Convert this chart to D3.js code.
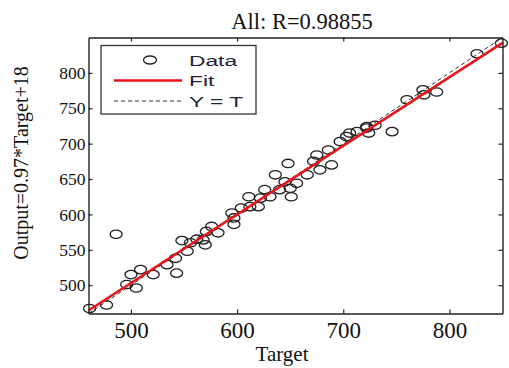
<!DOCTYPE html>
<html>
<head>
<meta charset="utf-8">
<script src="https://cdn.jsdelivr.net/npm/d3@7"></script>
<style>
  body { margin: 0; background: #fff; }
  svg { display: block; }
</style>
</head>
<body>
<svg id="chart" width="509" height="368"></svg>
<script>
// data
var targets = [461, 477, 496, 500, 505, 509, 486, 521, 534, 543, 542, 553, 556, 548, 562, 568, 570, 571, 576, 582,
  595, 597, 597, 604, 611, 612, 620, 622, 626, 631, 636, 640, 645, 648, 650, 651, 656, 666, 672, 675,
  678, 686, 689, 697, 703, 713, 722, 730, 706, 722, 724, 746, 760, 775, 776, 788, 826, 849];
var outputs = [467, 472, 501, 515, 496, 522, 572, 515, 529, 517, 538, 548, 560, 563, 565, 564, 557, 576, 583, 574,
  602, 595, 586, 609, 625, 611, 611, 623, 635, 625, 656, 635, 646, 672, 637, 625, 644, 656, 675, 684,
  663, 691, 670, 703, 710, 717, 724, 726, 715, 722, 715, 717, 762, 776, 769, 773, 827, 842];
var xTicks = [500, 600, 700, 800];
var yTicks = [500, 550, 600, 650, 700, 750, 800];
var fitSlope = 0.97, fitIntercept = 18;
var legendLabels = ["Data", "Fit", "Y = T"];

var data = targets.map(function (t, i) { return { t: t, o: outputs[i] }; });

var svg = d3.select("#chart");
var serif = "'Liberation Serif', 'Times New Roman', serif";

var x = d3.scaleLinear().domain([460, 850]).range([88.5, 502.5]);
var y = d3.scaleLinear().domain([460, 850]).range([313.5, 37.5]);

// Y = T dashed line
svg.append("line")
  .attr("x1", x(460)).attr("y1", y(460))
  .attr("x2", x(850)).attr("y2", y(850))
  .attr("stroke", "#333").attr("stroke-width", 1)
  .attr("stroke-dasharray", "4,3");

// data circles (picture is stretched sideways, so ellipses)
svg.append("g")
  .selectAll("ellipse")
  .data(data)
  .enter()
  .append("ellipse")
  .attr("cx", function (d) { return x(d.t); })
  .attr("cy", function (d) { return y(d.o); })
  .attr("rx", 6)
  .attr("ry", 4.2)
  .attr("fill", "none")
  .attr("stroke", "#222")
  .attr("stroke-width", 1.3);

// fit line
svg.append("line")
  .attr("x1", x(460)).attr("y1", y(fitSlope * 460 + fitIntercept))
  .attr("x2", x(850)).attr("y2", y(fitSlope * 850 + fitIntercept))
  .attr("stroke", "#e8141b").attr("stroke-width", 2.6);

// axes, ticks pointing inward on all four sides
function styleAxis(g) {
  g.selectAll("path").attr("stroke", "#222").attr("stroke-width", 1.4);
  g.selectAll("line").attr("stroke", "#222").attr("stroke-width", 1.2);
}
svg.append("g")
  .attr("transform", "translate(0," + y(460) + ")")
  .call(d3.axisBottom(x).tickValues(xTicks).tickSizeInner(-4).tickSizeOuter(0).tickPadding(8))
  .call(styleAxis)
  .call(function (g) {
    g.selectAll("text").attr("font-family", serif).attr("font-size", 23).attr("fill", "#111");
  });
svg.append("g")
  .attr("transform", "translate(0," + y(850) + ")")
  .call(d3.axisTop(x).tickValues(xTicks).tickSizeInner(-4).tickSizeOuter(0).tickFormat(""))
  .call(styleAxis);
svg.append("g")
  .attr("transform", "translate(" + x(460) + ",0)")
  .call(d3.axisLeft(y).tickValues(yTicks).tickSizeInner(-4).tickSizeOuter(0).tickPadding(3))
  .call(styleAxis)
  .call(function (g) {
    g.selectAll("text").attr("font-family", serif).attr("font-size", 17.5).attr("fill", "#111");
  });
svg.append("g")
  .attr("transform", "translate(" + x(850) + ",0)")
  .call(d3.axisRight(y).tickValues(yTicks).tickSizeInner(-4).tickSizeOuter(0).tickFormat(""))
  .call(styleAxis);

// title and axis labels
svg.append("text")
  .attr("x", 302).attr("y", 29)
  .attr("text-anchor", "middle")
  .attr("font-family", serif).attr("font-size", 22.5).attr("fill", "#111")
  .text("All: R=0.98855");
svg.append("text")
  .attr("x", 282).attr("y", 361)
  .attr("text-anchor", "middle")
  .attr("font-family", serif).attr("font-size", 21).attr("fill", "#111")
  .text("Target");
svg.append("text")
  .attr("transform", "translate(28,163) rotate(-90)")
  .attr("text-anchor", "middle")
  .attr("font-family", serif).attr("font-size", 20).attr("fill", "#111")
  .text("Output=0.97*Target+18");

// legend
var legend = svg.append("g");
legend.append("rect")
  .attr("x", 101).attr("y", 45.5)
  .attr("width", 155).attr("height", 68.5)
  .attr("fill", "#fff").attr("stroke", "#333").attr("stroke-width", 1.3);
legend.append("ellipse")
  .attr("cx", 150).attr("cy", 60).attr("rx", 6.5).attr("ry", 4)
  .attr("fill", "none").attr("stroke", "#222").attr("stroke-width", 1.3);
legend.append("line")
  .attr("x1", 114).attr("x2", 182).attr("y1", 80.5).attr("y2", 80.5)
  .attr("stroke", "#e8141b").attr("stroke-width", 2.6);
legend.append("line")
  .attr("x1", 114).attr("x2", 182).attr("y1", 101).attr("y2", 101)
  .attr("stroke", "#333").attr("stroke-width", 1).attr("stroke-dasharray", "4,3");
legend.selectAll("text.lab")
  .data(legendLabels)
  .enter()
  .append("text")
  .attr("class", "lab")
  .attr("transform", function (d, i) { return "translate(189," + (65.5 + i * 20.5) + ") scale(1.52,1)"; })
  .attr("font-family", "'Liberation Sans', Arial, sans-serif")
  .attr("font-size", 15).attr("fill", "#22223a")
  .text(function (d) { return d; });
</script>
</body>
</html>
